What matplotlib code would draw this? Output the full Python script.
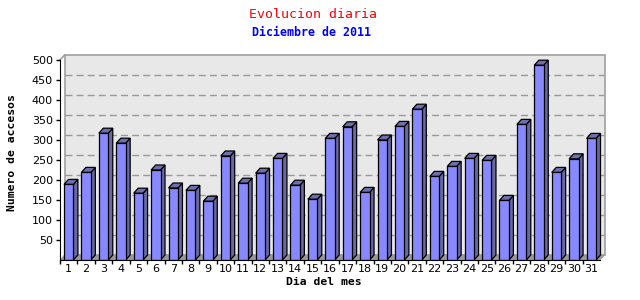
import matplotlib
matplotlib.use('Agg')
import matplotlib.pyplot as plt
from matplotlib.patches import Polygon, Rectangle

# daily hits, December 2011
dias = list(range(1, 32))
accesos = [189, 219, 317, 292, 167, 225, 180, 174, 147, 260,
           192, 217, 254, 187, 152, 304, 333, 169, 300, 334,
           377, 209, 234, 254, 249, 149, 339, 487, 219, 253, 304]
yticks = [50, 100, 150, 200, 250, 300, 350, 400, 450, 500]

FRONT = '#8888ff'
SIDE = '#6868a4'
TOP = '#6f6fae'
WALL = '#e8e8e8'
WALL_EDGE = '#a0a0a0'
FLOOR = '#999999'

fig = plt.figure(figsize=(6.4, 3.0), dpi=100)
ax = fig.add_axes([60 / 640, 40 / 300, 540 / 640, 200 / 300])
ax.set_xlim(0.5, 31.5)
ax.set_ylim(0, 500)

# 3d depth offset, in pixels -> data units
dx = 4.5 * 31 / 540
dy = 5 * 500 / 200
w = 0.54

# back wall
ax.add_patch(Rectangle((0.5 + dx, dy), 31, 500, facecolor=WALL,
                       edgecolor=WALL_EDGE, lw=1.2, clip_on=False, zorder=0))
ax.plot([0.5, 0.5 + dx], [500, 500 + dy], color=WALL_EDGE, lw=1.2,
        clip_on=False, zorder=0)
# floor
ax.add_patch(Polygon([(0.5, 0), (31.5, 0), (31.5 + dx, dy), (0.5 + dx, dy)],
                     closed=True, facecolor=FLOOR, edgecolor=FLOOR,
                     lw=0.5, clip_on=False, zorder=1))
# grid on the wall
for t in yticks[:-1]:
    ax.plot([0.5 + dx, 31.5 + dx], [t + dy, t + dy], color='#999999',
            lw=1, ls=(0, (5, 3)), clip_on=False, zorder=1)

# bars
ax.bar(dias, accesos, width=w, color=FRONT, edgecolor='black', lw=0.9,
       zorder=3)
for x, v in zip(dias, accesos):
    l, r = x - w / 2, x + w / 2
    ax.add_patch(Polygon([(r, 0), (r + dx, dy), (r + dx, v + dy), (r, v)],
                         closed=True, facecolor=SIDE, edgecolor='black',
                         lw=0.9, clip_on=False, zorder=2))
    ax.add_patch(Polygon([(l, v), (l + dx, v + dy), (r + dx, v + dy), (r, v)],
                         closed=True, facecolor=TOP, edgecolor='black',
                         lw=0.9, clip_on=False, zorder=2))

for s in ['top', 'right']:
    ax.spines[s].set_visible(False)
ax.spines['left'].set_color('black')
ax.spines['bottom'].set_color('black')
ax.spines['left'].set_zorder(5)
ax.spines['bottom'].set_zorder(5)
ax.patch.set_visible(False)

ax.set_yticks(yticks)
ax.set_yticklabels([str(t) for t in yticks], fontsize=8, family='DejaVu Sans')
ax.tick_params(axis='y', direction='out', length=3, width=1, pad=2)
ax.set_xticks(dias)
ax.set_xticklabels([str(d) for d in dias], fontsize=8, family='DejaVu Sans')
ax.set_xticks([i + 0.5 for i in range(31)], minor=True)
ax.tick_params(axis='x', which='major', length=0, pad=3)
ax.tick_params(axis='x', which='minor', direction='out', length=3, width=1)

ax.set_ylabel('Numero de accesos', fontsize=8.2, family='DejaVu Sans Mono',
              fontweight='bold')
ax.yaxis.set_label_coords((17 - 60) / 540, 0.535)
fig.text(324 / 640, 1 - 282 / 300, 'Dia del mes', fontsize=8.2,
         family='DejaVu Sans Mono', fontweight='bold', ha='center', va='center')

fig.text(313 / 640, 1 - 14 / 300, 'Evolucion diaria', fontsize=9.5,
         family='DejaVu Sans Mono', color='red', ha='center', va='center')
fig.text(311 / 640, 1 - 32 / 300, 'Diciembre de 2011', fontsize=8.4,
         family='DejaVu Sans Mono', fontweight='bold', color='blue',
         ha='center', va='center')

fig.savefig('out.png', dpi=100)
